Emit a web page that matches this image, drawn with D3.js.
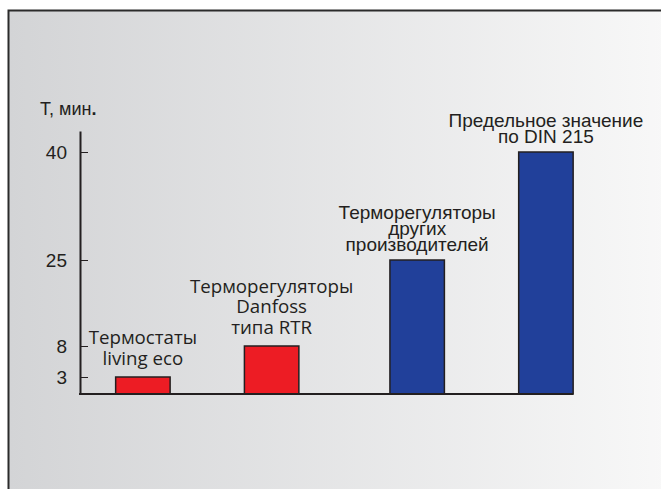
<!DOCTYPE html>
<html><head><meta charset="utf-8">
<script src="https://cdn.jsdelivr.net/npm/d3@7"></script>
<style>html,body{margin:0;padding:0;background:#fff;}svg{display:block;}</style>
</head><body>
<script>
// ---- data ----
const categories = ["living eco", "Danfoss RTR", "Другие производители", "DIN 215"];
const values = [3, 8, 25, 40];
const groups = ["Danfoss", "Прочие"];
const categoryGroup = ["Danfoss", "Danfoss", "Прочие", "Прочие"];
const barColors = ["#ed1c24", "#ed1c24", "#21409a", "#21409a"];
const labelLines = [
  ["Термостаты", "living eco"],
  ["Терморегуляторы", "Danfoss", "типа RTR"],
  ["Терморегуляторы", "других", "производителей"],
  ["Предельное значение", "по DIN 215"]
];
const tickValues = [3, 8, 25, 40];
const axisTitle = "Т, мин";

const W = 661, H = 489;
const svg = d3.select("body").append("svg").attr("width", W).attr("height", H);

const defs = svg.append("defs");
const grad = defs.append("linearGradient").attr("id", "bg").attr("x1", "0").attr("x2", "1").attr("y1", "0").attr("y2", "0");
grad.append("stop").attr("offset", "0").attr("stop-color", "#d3d4d6");
grad.append("stop").attr("offset", "1").attr("stop-color", "#f8f8f8");

svg.append("rect").attr("x", 9).attr("y", 11).attr("width", W).attr("height", H).attr("fill", "url(#bg)");
svg.append("path").attr("d", `M8.5,${H} V10.5 H${W}`).attr("fill", "none").attr("stroke", "#2b2b2b").attr("stroke-width", 2);

// non-linear (piecewise) illustrative scale as in original
const y = d3.scaleLinear().domain([0, 3, 8, 25, 40, 43.5]).range([394, 377, 346, 260, 152, 131]);
// grouped band scales
const x0 = d3.scaleBand().domain(groups).range([80, 608.8]).paddingInner(0.332).paddingOuter(0.13);
const x1 = d3.scaleBand().domain([0, 1]).range([0, x0.bandwidth()]).paddingInner(0.577).paddingOuter(0);
const idxInGroup = categories.map((c, i) => categoryGroup.slice(0, i).filter(g => g === categoryGroup[i]).length);
const xPos = i => x0(categoryGroup[i]) + x1(idxInGroup[i]);
const bw = x1.bandwidth();

const ink = "#231f20";
const helv = "'Liberation Sans', Arial, Helvetica, sans-serif";

// y axis
const yAxis = d3.axisLeft(y).tickValues(tickValues).tickSizeInner(-8).tickSizeOuter(0).tickPadding(13);
const gy = svg.append("g").attr("transform", "translate(80,0)").call(yAxis);
gy.select(".domain").attr("stroke", ink).attr("stroke-width", 2);
gy.selectAll(".tick line").attr("stroke", ink).attr("stroke-width", 1);
gy.selectAll(".tick text").attr("fill", ink).style("font-family", helv).style("font-size", "19px");

// axis title
const t = svg.append("text").attr("x", 40).attr("y", 115).attr("fill", ink)
  .style("font-family", helv).style("font-size", "18px");
t.append("tspan").text(axisTitle);
t.append("tspan").text(".").style("font-weight", "bold");

// bars
svg.append("g").selectAll("rect").data(categories).join("rect")
  .attr("x", (d, i) => xPos(i)).attr("width", bw)
  .attr("y", (d, i) => y(values[i])).attr("height", (d, i) => y(0) - y(values[i]))
  .attr("fill", (d, i) => barColors[i]).attr("stroke", ink).attr("stroke-width", 1.5);

// baseline
svg.append("line").attr("x1", 79).attr("x2", xPos(categories.length - 1) + bw)
  .attr("y1", y(0)).attr("y2", y(0)).attr("stroke", ink).attr("stroke-width", 2.2);

// labels
categories.forEach((c, i) => {
  const red = i < 2;
  const lh = red ? 20.5 : 15.8;
  const off = red ? 12.5 : 9;
  const lines = labelLines[i];
  const cx = xPos(i) + bw / 2;
  const base = y(values[i]) - off - (lines.length - 1) * lh;
  const txt = svg.append("text").attr("text-anchor", "middle").attr("fill", ink)
    .style("font-family", red ? "'Open Sans', sans-serif" : helv)
    .style("font-size", red ? "18.7px" : "19px");
  lines.forEach((l, j) => {
    txt.append("tspan").attr("x", cx).attr("y", base + j * lh).text(l);
  });
});
</script>
</body></html>
